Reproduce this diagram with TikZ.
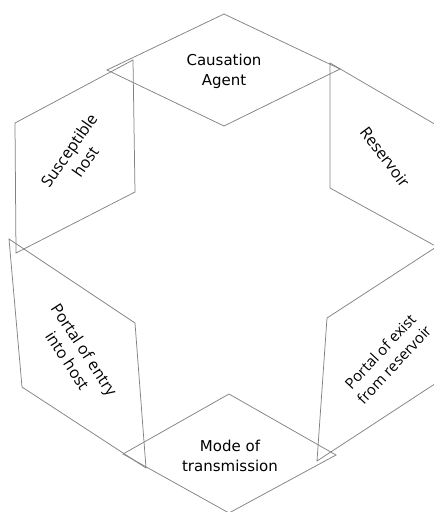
\documentclass[tikz,border=0pt]{standalone}
\usepackage{fontspec}
\setmainfont{DejaVu Sans}
\newfontfamily\tiltfont{Open Sans}
\definecolor{linegray}{RGB}{130,130,130}
\begin{document}
\begin{tikzpicture}[x=1pt,y=-1pt,
  face/.style={draw=linegray, line width=0.75pt, line join=miter},
  flat/.style={font=\fontsize{15}{20}\selectfont, align=center, text=black, inner sep=0pt},
  tilt/.style={font=\tiltfont\fontsize{16}{20}\selectfont, align=center, text=black, inner sep=0pt}]
\useasboundingbox (0,0) rectangle (434,512);
\clip (0,0) rectangle (434,512);
% top rhombus
\coordinate (a1) at (224,14);  \coordinate (a2) at (340,69);
\coordinate (a3) at (224,126); \coordinate (a4) at (107,70);
% susceptible host
\coordinate (c1) at (15,123);  \coordinate (c2) at (133,60);
\coordinate (c3) at (135,192); \coordinate (c4) at (16,253);
% reservoir
\coordinate (b1) at (330,63);  \coordinate (b2) at (450,133);
\coordinate (b3) at (450,254); \coordinate (b4) at (330,188);
% portal of exist
\coordinate (f1) at (327,318); \coordinate (f2) at (450,238);
\coordinate (f3) at (450,374); \coordinate (f4) at (317,461);
% portal of entry
\coordinate (d1) at (9,239);   \coordinate (d2) at (135,323);
\coordinate (d3) at (146,468); \coordinate (d4) at (22,387);
% mode of transmission
\coordinate (e1) at (229,394); \coordinate (e2) at (336,455);
\coordinate (e3) at (229,513); \coordinate (e4) at (123,454);

\draw[face] (a1) -- (a2) -- (a3) -- (a4) -- cycle;
\draw[face] (c1) -- (c2) -- (c3) -- (c4) -- cycle;
\draw[face] (b1) -- (b2) -- (b3) -- (b4) -- cycle;
\draw[face] (f1) -- (f2) -- (f3) -- (f4) -- cycle;
\draw[face] (d1) -- (d2) -- (d3) -- (d4) -- cycle;
\draw[face] (e1) -- (e2) -- (e3) -- (e4) -- cycle;

\node[flat] (agent) at (224,71) {Causation\\Agent};
\node[flat] (mode) at (230,456) {Mode of\\transmission};
\node[tilt, rotate=55] (host) at (77,156) {Susceptible\\host};
\node[tilt, rotate=-53] (res) at (385,157) {Reservoir};
\node[tilt, rotate=-57] (entry) at (76,355) {Portal of entry\\into host};
\node[tilt, rotate=47, font=\tiltfont\fontsize{15}{19}\selectfont] (exist) at (387,358) {Portal of exist\\from reservoir};
\end{tikzpicture}
\end{document}
